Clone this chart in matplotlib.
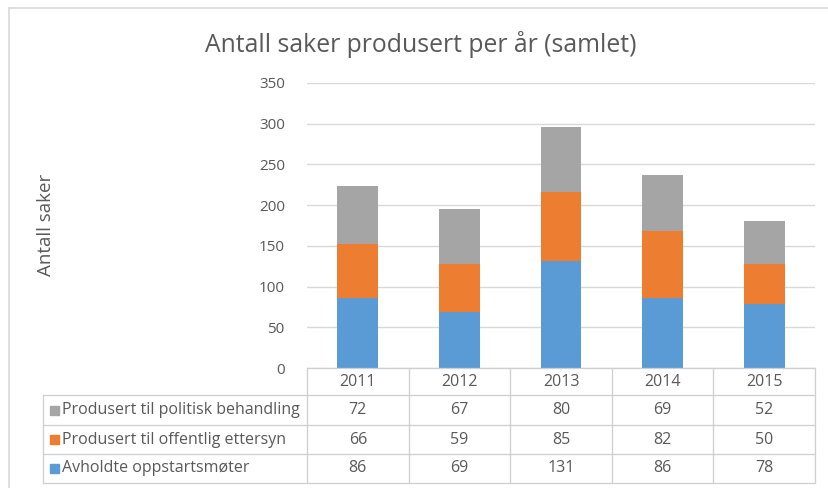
import matplotlib
matplotlib.use("Agg")
import matplotlib.pyplot as plt
from matplotlib.transforms import blended_transform_factory
from matplotlib.patches import Rectangle
from matplotlib.lines import Line2D

years = ["2011", "2012", "2013", "2014", "2015"]
series_names = ["Produsert til politisk behandling",
                "Produsert til offentlig ettersyn",
                "Avholdte oppstartsmøter"]
politisk = [72, 67, 80, 69, 52]
offentlig = [66, 59, 85, 82, 50]
oppstart = [86, 69, 131, 86, 78]
yticks = [0, 50, 100, 150, 200, 250, 300, 350]

C_BLUE = "#5B9BD5"
C_ORANGE = "#ED7D31"
C_GRAY = "#A5A5A5"
TXT = "#595959"
GRID = "#D9D9D9"

plt.rcParams['font.family'] = ['Open Sans', 'DejaVu Sans']

W, H = 829, 488
fig = plt.figure(figsize=(W / 100, H / 100), dpi=100)

def fx(px):
    return px / W

def fy(py):
    return 1 - py / H

left, right, top0, bot0 = 307, 815, 83, 368
ax = fig.add_axes([fx(left), fy(bot0), fx(right) - fx(left), fy(top0) - fy(bot0)])

x = list(range(len(years)))
bw = 0.4
ax.bar(x, oppstart, bw, color=C_BLUE, zorder=3)
b2 = [a for a in oppstart]
ax.bar(x, offentlig, bw, bottom=b2, color=C_ORANGE, zorder=3)
b3 = [a + b for a, b in zip(oppstart, offentlig)]
ax.bar(x, politisk, bw, bottom=b3, color=C_GRAY, zorder=3)

ax.set_xlim(-0.5, len(years) - 0.5)
ax.set_ylim(0, 350)
ax.set_yticks(yticks)
ax.set_yticklabels([str(v) for v in yticks], fontsize=11, color=TXT)
ax.tick_params(axis='y', length=0, pad=16)
ax.set_xticks([])
ax.grid(axis='y', color=GRID, linewidth=1, zorder=0)
for s in ax.spines.values():
    s.set_visible(False)

# Title and y-label
fig.text(0.507, fy(45), "Antall saker produsert per år (samlet)", ha='center', va='center',
         fontsize=17.8, color=TXT)
fig.text(fx(46), fy(225), "Antall saker", rotation=90, ha='center', va='center',
         fontsize=13.5, color=TXT)

# Chart border (left and top)
fig.add_artist(Line2D([fx(9), fx(9)], [fy(8), 0], color=GRID, lw=1.2))
fig.add_artist(Line2D([fx(9), 1], [fy(8), fy(8)], color=GRID, lw=1.2))

# Data table
tr = blended_transform_factory(ax.transData, fig.transFigure)
row_lines = [368, 395, 425, 454, 483]
lc = "#CFCFCF"
# horizontal lines
fig.add_artist(Line2D([fx(left), fx(right)], [fy(row_lines[0])] * 2, color=lc, lw=0.9))
for r in row_lines[1:]:
    fig.add_artist(Line2D([fx(43), fx(right)], [fy(r)] * 2, color=lc, lw=0.9))
# vertical lines
fig.add_artist(Line2D([fx(43), fx(43)], [fy(395), fy(483)], color=lc, lw=0.9))
for k in range(len(years) + 1):
    fig.add_artist(Line2D([k - 0.5, k - 0.5], [fy(368), fy(483)], color=lc, lw=0.9,
                          transform=tr))

# header years
hy = fy((368 + 395) / 2)
for i, yr in enumerate(years):
    fig.text(i, hy, yr, transform=tr, ha='center', va='center', fontsize=11.5, color=TXT)

rows = [(series_names[0], politisk, C_GRAY),
        (series_names[1], offentlig, C_ORANGE),
        (series_names[2], oppstart, C_BLUE)]
for ri, (name, vals, col) in enumerate(rows):
    yc = (row_lines[ri + 1] + row_lines[ri + 2]) / 2
    fig.add_artist(Rectangle((fx(50), fy(yc + 4.5)), fx(9), 9 / H, color=col,
                             transform=fig.transFigure))
    fig.text(fx(62), fy(yc), name, ha='left', va='center', fontsize=11.5, color=TXT)
    for i, v in enumerate(vals):
        fig.text(i, fy(yc), str(v), transform=tr, ha='center', va='center',
                 fontsize=11.5, color=TXT)

fig.savefig("out.png", dpi=100, facecolor="white")
